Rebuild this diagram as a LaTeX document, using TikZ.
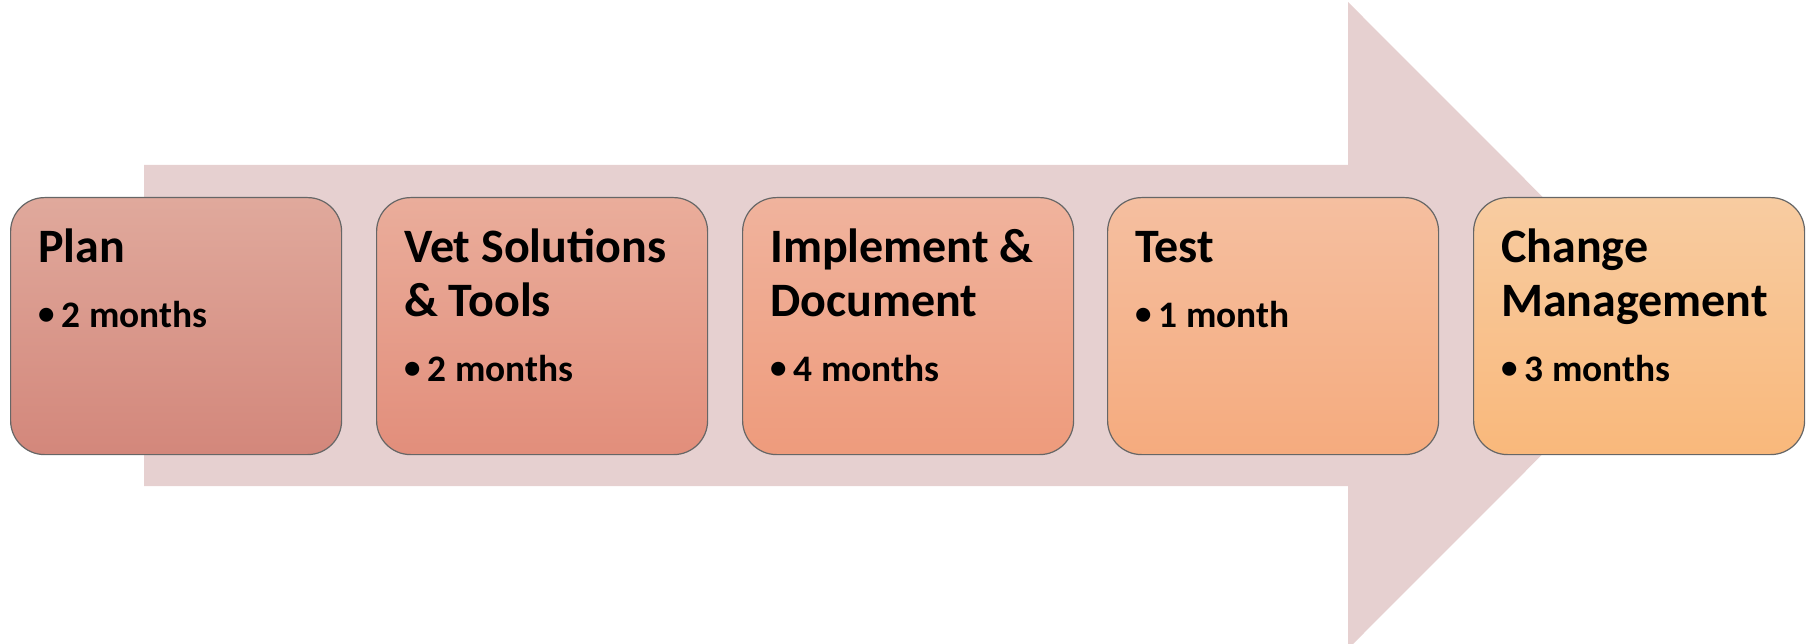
\documentclass[tikz,border=0pt]{standalone}
\usepackage{fontspec}
\setmainfont{Carlito}
\begin{document}
\begin{tikzpicture}[x=1pt,y=-1pt,
  phase/.style={draw=black!60, line width=1.2pt, rounded corners=34pt,
    minimum width=331pt, minimum height=257pt, inner sep=0pt, anchor=north west},
  title/.style={anchor=base west, align=left, inner sep=0pt,
    font=\bfseries\fontsize{48}{54}\selectfont},
  item/.style={anchor=base west, inner sep=0pt,
    font=\bfseries\fontsize{37.4}{44}\selectfont}]
\useasboundingbox (0,0) rectangle (1806,644);
\definecolor{arrowfill}{HTML}{E6D0D0}
% background arrow
\fill[arrowfill] (144,165) -- (1348,165) -- (1348,2) -- (1671,325.5)
  -- (1348,649) -- (1348,486) -- (144,486) -- cycle;
% phase box: name, left x, top colour, bottom colour, title, baseline of
% the title's last line below the box top, duration
\newcommand{\phasebox}[7]{%
  \node[phase, top color=#3, bottom color=#4] (#1) at (#2,197) {};
  \node[title] (#1t) at ([xshift=28pt,yshift=-#6pt]#1.north west) {#5};
  \node[item] (#1b) at ([yshift=-65pt]#1t.base west)
    {\makebox[23.5pt][l]{\raisebox{2.5pt}{\fontsize{33}{34}\selectfont\textbullet}}#7};
}
\definecolor{c1t}{HTML}{E0A99C}\definecolor{c1b}{HTML}{D3877B}
\definecolor{c2t}{HTML}{EAAD9B}\definecolor{c2b}{HTML}{E28E7B}
\definecolor{c3t}{HTML}{F0B39D}\definecolor{c3b}{HTML}{EE9B7C}
\definecolor{c4t}{HTML}{F5BFA0}\definecolor{c4b}{HTML}{F5AB7E}
\definecolor{c5t}{HTML}{F8CCA1}\definecolor{c5b}{HTML}{F9B87B}
\phasebox{p1}{10}{c1t}{c1b}{Plan}{65}{2 months}
\phasebox{p2}{376}{c2t}{c2b}{Vet Solutions\\\& Tools}{119}{2 months}
\phasebox{p3}{742}{c3t}{c3b}{Implement \&\\Document}{119}{4 months}
\phasebox{p4}{1107}{c4t}{c4b}{Test}{65}{1 month}
\phasebox{p5}{1473}{c5t}{c5b}{Change\\Management}{119}{3 months}
\end{tikzpicture}
\end{document}
